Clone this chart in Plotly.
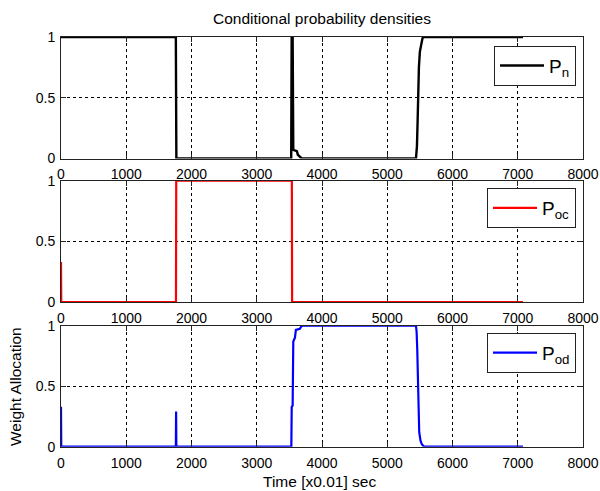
import plotly.graph_objects as go

# ---------------- data ----------------
pn_t = [0, 1760, 1768, 3528, 3535, 3550, 3560, 3615, 3630, 3690, 5440, 5455, 5465,
        5475, 5485, 5500, 5520, 5540, 5555, 7080]
pn_v = [1, 1, 0, 0, 1, 1, 0.07, 0.06, 0.03, 0, 0, 0.1, 0.3,
        0.55, 0.75, 0.88, 0.95, 0.99, 1, 1]

poc_t = [0, 4, 1762, 1766, 3538, 3542, 7080]
poc_v = [0.33, 0, 0, 1, 1, 0, 0]

pod_t = [0, 4, 1760, 1764, 1768, 3530, 3536, 3550, 3560, 3585, 3600, 3660, 3690,
         5440, 5450, 5460, 5470, 5480, 5490, 5510, 5530, 5565, 7080]
pod_v = [0.33, 0, 0, 0.29, 0, 0, 0.33, 0.34, 0.87, 0.9, 0.965, 0.975, 1,
         1, 0.95, 0.8, 0.5, 0.25, 0.12, 0.05, 0.02, 0, 0]

x_ticks = [0, 1000, 2000, 3000, 4000, 5000, 6000, 7000, 8000]
y_ticks = [0, 0.5, 1]
y_tick_labels = ["0", "0.5", "1"]

title_text = "Conditional probability densities"
xlabel_text = "Time [x0.01] sec"
ylabel_text = "Weight Allocation"

# ---------------- figure ----------------
W, H = 600, 491
FONT = "Liberation Sans, Arial, sans-serif"

def fy(px):
    return (H - px) / H

x_dom = [61 / W, 583 / W]
y_doms = [
    [fy(158.5), fy(37)],
    [fy(302), fy(180.7)],
    [fy(446.7), fy(325.7)],
]

fig = go.Figure()
series = [
    (pn_t, pn_v, "black", "P<sub>n</sub>", "legend"),
    (poc_t, poc_v, "#ff0000", "P<sub>oc</sub>", "legend2"),
    (pod_t, pod_v, "#0000ff", "P<sub>od</sub>", "legend3"),
]
for i, (t, v, c, name, lg) in enumerate(series):
    ax = "" if i == 0 else str(i + 1)
    fig.add_trace(go.Scatter(
        x=t, y=v, mode="lines", name=name,
        line=dict(color=c, width=2.4 if i == 0 else 2.2),
        xaxis="x" + ax, yaxis="y" + ax, legend=lg, showlegend=True,
    ))

axis_common = dict(
    showline=True, linecolor="#222222", linewidth=1, mirror="ticks",
    ticks="inside", ticklen=5, tickcolor="#222222", tickwidth=1,
    showgrid=True, gridcolor="black", gridwidth=1, griddash="3px,3px",
    zeroline=False, automargin=False,
    tickfont=dict(family=FONT, size=14, color="black"),
)

layout = dict(
    width=W, height=H, autosize=False,
    margin=dict(l=0, r=0, t=0, b=0, pad=0, autoexpand=False),
    plot_bgcolor="white", paper_bgcolor="white",
    font=dict(family=FONT, size=14, color="black"),
)
for i in range(3):
    ax = "" if i == 0 else str(i + 1)
    layout["xaxis" + ax] = dict(
        axis_common, domain=x_dom, range=[0, 8000], tickvals=x_ticks,
        anchor="y" + ax, ticklabelstandoff=3,
    )
    layout["yaxis" + ax] = dict(
        axis_common, domain=y_doms[i], range=[0, 1], tickvals=y_ticks,
        ticktext=y_tick_labels, anchor="x" + ax, ticklabelstandoff=2,
    )

leg_tops = [45.7, 188, 332.7]
for i, key in enumerate(["legend", "legend2", "legend3"]):
    layout[key] = dict(
        x=576 / W, xanchor="right", y=fy(leg_tops[i]), yanchor="top",
        bgcolor="white", bordercolor="#222222", borderwidth=1,
        font=dict(family=FONT, size=19, color="black"),
        itemwidth=44,
    )

fig.update_layout(**layout)

fig.add_annotation(text=title_text, x=322 / W, y=fy(18), xref="paper", yref="paper",
                   showarrow=False, xanchor="center", yanchor="middle",
                   font=dict(family=FONT, size=15.5, color="black"))
fig.add_annotation(text=xlabel_text, x=319 / W, y=fy(481), xref="paper", yref="paper",
                   showarrow=False, xanchor="center", yanchor="middle",
                   font=dict(family=FONT, size=15.5, color="black"))
fig.add_annotation(text=ylabel_text, x=15 / W, y=fy(387), xref="paper", yref="paper",
                   showarrow=False, xanchor="center", yanchor="middle", textangle=-90,
                   font=dict(family=FONT, size=15.5, color="black"))

fig.write_html("out.html")
